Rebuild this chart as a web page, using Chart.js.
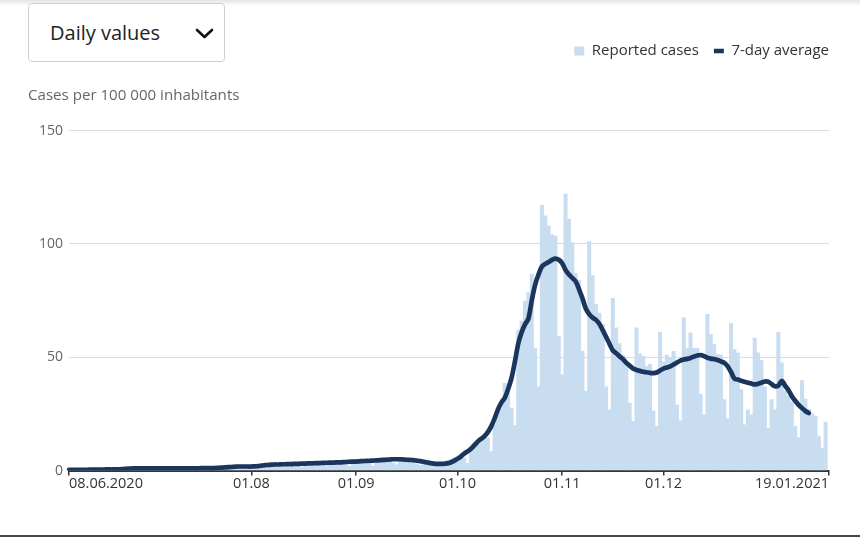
<!DOCTYPE html>
<html><head><meta charset="utf-8">
<script src="https://cdn.jsdelivr.net/npm/chart.js@4.4.1/dist/chart.umd.min.js"></script>
<style>
html,body{margin:0;padding:0;background:#fff;}
body{width:860px;height:537px;position:relative;overflow:hidden;font-family:"Open Sans",sans-serif;}
#wrap{position:absolute;left:0;top:0;width:860px;height:537px;}
#topshade{position:absolute;left:0;top:0;width:860px;height:6px;background:linear-gradient(#e4e4e4,rgba(255,255,255,0));}
#bottomline{position:absolute;left:0;bottom:0;width:860px;height:2px;background:#4e463e;}
#select{position:absolute;left:28px;top:3px;width:195px;height:57px;border:1px solid #cfcfcf;border-radius:4px;background:#fff;}
#select span{position:absolute;left:21px;top:15px;font-size:20px;color:#222;line-height:27px;white-space:nowrap;}
#select svg{position:absolute;left:166px;top:24px;}
</style></head>
<body>
<div id="wrap"><canvas id="c"></canvas></div>
<div id="topshade"></div>
<div id="select"><span>Daily values</span><svg width="19" height="11" viewBox="0 0 19 11"><polyline points="2,2 9.5,9 17,2" fill="none" stroke="#111" stroke-width="2.6" stroke-linecap="round" stroke-linejoin="round"/></svg></div>
<div id="bottomline"></div>
<script>
// ---- data ----
const firstDay = [2020, 5, 8]; // 08.06.2020
const dayCount = 226;
const categories = [];
for (let i = 0; i < dayCount; i++) {
  const d = new Date(firstDay[0], firstDay[1], firstDay[2] + i);
  const dd = String(d.getDate()).padStart(2, '0');
  const mm = String(d.getMonth() + 1).padStart(2, '0');
  categories.push(dd + '.' + mm + '.' + d.getFullYear());
}
const tickDates  = ['08.06.2020', '01.08.2020', '01.09.2020', '01.10.2020', '01.11.2020', '01.12.2020', '19.01.2021'];
const tickLabels = ['08.06.2020', '01.08', '01.09', '01.10', '01.11', '01.12', '19.01.2021'];
const yTicks = [0, 50, 100, 150];

const reportedCases = [
  0.4,0.4,0.3,0.4,0.3,0.2,0.1,
  0.5,0.5,0.4,0.5,0.5,0.3,0.2,
  0.8,0.9,1.0,1.2,1.1,0.8,0.6,
  1.3,1.2,1.1,1.2,1.1,0.7,0.5,
  1.2,1.3,1.1,1.2,1.1,0.7,0.5,
  1.3,1.2,1.2,1.1,1.1,0.7,0.6,
  1.4,1.3,1.3,1.4,1.3,0.8,0.6,
  2.1,2.0,2.2,2.1,2.0,1.3,1.0,
  2.4,2.5,2.7,2.8,2.9,1.8,1.4,
  3.3,3.4,3.3,3.2,3.3,2.0,1.6,
  3.6,3.7,3.8,3.6,3.7,2.3,1.7,
  4.0,4.1,4.0,4.1,3.9,2.5,1.9,
  4.6,4.7,4.8,4.9,4.7,2.9,2.1,
  5.4,5.5,5.6,5.5,5.5,3.3,2.5,
  5.6,5.5,5.2,5.0,4.8,3.0,2.2,
  4.2,4.0,3.8,3.7,3.8,2.3,1.7,
  4.5,5.0,5.6,6.0,7.0,5.5,3.2,
  9.5,10.5,12,14.3,14.3,14.5,8.4,
  20.2,27.5,30,38.5,36,27.6,20,
  62,66,74.8,78.5,86.6,54,37,
  117,112.4,108,104,103.5,59.3,42.3,
  122,111,100.6,87,84,52.7,35,
  101,86,73.3,69.5,64.5,37,26.8,
  76,63,56,51,47,29.8,21.7,
  63,51.5,50.4,46,47,26.4,19.5,
  61,48,51,50,52.6,29,22,
  67.4,54,60.8,54,54,33.6,24.6,
  69,60,55.6,51.2,51,31.3,23,
  65,53.4,52,35.7,20.2,26.8,24.6,
  58.5,52,48.5,37,18.7,31.3,26.8,
  61,47.5,35,33,30.5,19.5,14.6,
  39.7,31.5,27,25,24,15,9.9,
  21.4,null
];

const sevenDayAverage = [
  0.3,0.3,0.3,0.3,0.3,0.3,0.4,
  0.4,0.4,0.4,0.4,0.5,0.5,0.5,
  0.6,0.6,0.7,0.8,0.9,1.0,1.0,
  1.0,1.0,1.0,1.0,1.0,1.0,1.0,
  1.0,1.0,1.0,1.0,1.0,1.0,1.0,
  1.0,1.0,1.0,1.0,1.1,1.1,1.1,
  1.1,1.1,1.2,1.3,1.4,1.5,1.6,
  1.7,1.8,1.8,1.8,1.8,1.8,1.9,
  2.0,2.2,2.4,2.5,2.6,2.7,2.7,
  2.8,2.8,2.9,2.9,3.0,3.0,3.1,
  3.1,3.2,3.2,3.3,3.3,3.4,3.4,
  3.5,3.5,3.6,3.6,3.7,3.8,3.9,
  4.0,4.0,4.1,4.2,4.3,4.3,4.4,
  4.5,4.6,4.7,4.8,4.9,5.0,5.0,
  5.0,4.9,4.8,4.7,4.6,4.4,4.2,
  3.9,3.6,3.3,3.1,3.0,3.0,3.0,
  3.2,3.6,4.3,5.2,6.2,7.5,8.5,
  9.6,11.2,12.8,14.0,15.2,17.0,19.5,
  23,27,30,32,36,40.8,48,
  56,61,64.5,67,75,82,86.5,
  90,91.2,92,93,93.5,93,91.5,
  88.5,86.5,85,83.5,80,76,71.5,
  69,67.5,66.5,64.8,62,59,56,
  53,51.8,50.4,49.2,47.5,46.3,45,
  44.4,44,43.6,43.4,43.1,43,43.3,
  44.2,45,45.5,46,46.8,47.7,48.5,
  49,49.3,49.7,50.3,50.8,51,50.5,
  49.8,49.4,49.2,48.8,48.2,47.5,46,
  43.5,40.6,40.2,39.6,39.2,38.8,38.4,
  38,38.3,38.8,39.3,39.2,38.2,37.2,
  37.5,39.6,37.5,35.5,32.8,30.8,29,
  27.6,26.3,25.4
];

// ---- chart ----
const FONT = '"Open Sans", sans-serif';
const barColor = '#c9ddf1';
const lineColor = '#1b365d';

new Chart(document.getElementById('c'), {
  data: {
    labels: categories,
    datasets: [
      {
        type: 'bar',
        label: 'Reported cases',
        data: reportedCases,
        backgroundColor: barColor,
        borderWidth: 0,
        barPercentage: 1,
        categoryPercentage: 1,
        pointStyle: 'rect',
        order: 1
      },
      {
        type: 'line',
        label: '7-day average',
        data: sevenDayAverage,
        borderColor: lineColor,
        backgroundColor: lineColor,
        borderWidth: 4.7,
        pointRadius: 0,
        tension: 0.3,
        borderCapStyle: 'round',
        borderJoinStyle: 'round',
        fill: false,
        pointStyle: 'line',
        order: 0
      }
    ]
  },
  options: {
    responsive: true,
    maintainAspectRatio: false,
    animation: false,
    events: [],
    layout: { padding: { left: 28, right: 16, top: 28.5, bottom: 44 } },
    scales: {
      x: {
        type: 'category',
        offset: false,
        grid: { display: true, offset: false, drawOnChartArea: false, drawTicks: true, tickLength: 5, color: '#333', lineWidth: 1.5 },
        border: { display: true, color: '#333', width: 2 },
        afterBuildTicks: (s) => { s.ticks = tickDates.map(d => ({ value: categories.indexOf(d) })); },
        ticks: {
          autoSkip: false, maxRotation: 0, minRotation: 0, align: 'inner', padding: 0,
          color: '#333', font: { family: FONT, size: 14.5 },
          callback: (v, i) => tickLabels[i]
        }
      },
      y: {
        position: 'left',
        min: 0, max: 150,
        afterBuildTicks: (s) => { s.ticks = yTicks.map(v => ({ value: v })); },
        grid: { color: '#dcdcdc', lineWidth: 1, drawTicks: false },
        border: { display: false },
        ticks: { color: '#666', padding: 6, font: { family: FONT, size: 14 } },
        afterFit: (s) => { s.width = 41; }
      },
      yRight: {
        position: 'right',
        display: true,
        grid: { display: false },
        border: { display: false },
        ticks: { display: false },
        afterFit: (s) => { s.width = 15; }
      }
    },
    plugins: {
      tooltip: { enabled: false },
      legend: {
        display: true,
        position: 'top',
        align: 'end',
        labels: {
          usePointStyle: true,
          pointStyleWidth: 10,
          boxHeight: 9,
          padding: 15,
          color: '#333',
          font: { family: FONT, size: 15 },
          sort: (a, b) => a.datasetIndex - b.datasetIndex,
          generateLabels: (chart) => {
            const items = Chart.defaults.plugins.legend.labels.generateLabels(chart);
            items.forEach(it => {
              it.lineCap = 'butt';
              if (it.datasetIndex === 1) { it.lineWidth = 4.5; } else { it.lineWidth = 0; }
            });
            return items;
          }
        }
      },
      title: {
        display: true,
        text: 'Cases per 100 000 inhabitants',
        position: 'top',
        align: 'start',
        weight: 500,
        color: '#666',
        font: { family: FONT, size: 15.1, weight: 'normal' },
        padding: { top: 18.3, bottom: 25.7 }
      }
    }
  }
});
</script>
</body></html>
